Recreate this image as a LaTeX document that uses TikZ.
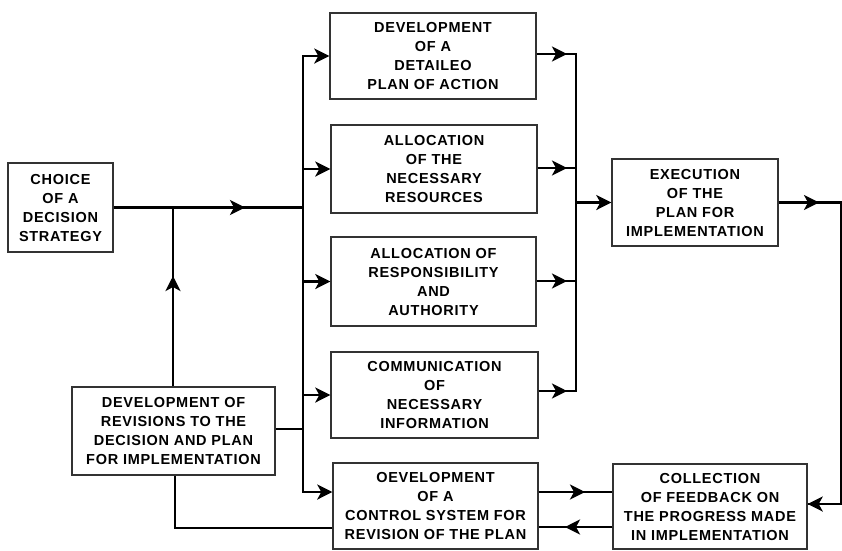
\documentclass[tikz,border=0pt]{standalone}
\usepackage{fontspec}
\setmainfont{Liberation Sans}[LetterSpace=5]
\usetikzlibrary{arrows.meta,calc}
\begin{document}
\begin{tikzpicture}[x=1pt,y=-1pt,
  box/.style={draw=black!80,line width=1.4pt,rectangle,inner sep=0pt,align=center,
    font=\fontsize{14.5}{19}\selectfont\bfseries},
  conn/.style={line width=2.8pt,black,line cap=rect},
  arr/.style={line width=2.8pt,black,-{Stealth[length=15pt,width=15pt,inset=4pt]}}]
\useasboundingbox (0,0) rectangle (842,550);
\fill[white] (0,0) rectangle (842,550);
% boxes
\node[box,minimum width=105pt,minimum height=89pt] (choice) at (60.5,207.5) {CHOICE\\OF A\\DECISION\\STRATEGY};
\node[box,minimum width=206pt,minimum height=86pt] (d1) at (433,56) {DEVELOPMENT\\OF A\\DETAILEO\\PLAN OF ACTION};
\node[box,minimum width=206pt,minimum height=88pt] (d2) at (434,169) {ALLOCATION\\OF THE\\NECESSARY\\RESOURCES};
\node[box,minimum width=205pt,minimum height=89pt] (d3) at (433.5,281.5) {ALLOCATION OF\\RESPONSIBILITY\\AND\\AUTHORITY};
\node[box,minimum width=207pt,minimum height=86pt] (d4) at (434.5,395) {COMMUNICATION\\OF\\NECESSARY\\INFORMATION};
\node[box,minimum width=205pt,minimum height=86pt] (d5) at (435.5,506) {OEVELOPMENT\\OF A\\CONTROL SYSTEM FOR\\REVISION OF THE PLAN};
\node[box,minimum width=203pt,minimum height=88pt] (rev) at (173.5,431) {DEVELOPMENT OF\\REVISIONS TO THE\\DECISION AND PLAN\\FOR IMPLEMENTATION};
\node[box,minimum width=166pt,minimum height=87pt] (exe) at (695,202.5) {EXECUTION\\OF THE\\PLAN FOR\\IMPLEMENTATION};
\node[box,minimum width=194pt,minimum height=85pt] (col) at (710,506.5) {COLLECTION\\OF FEEDBACK ON\\THE PROGRESS MADE\\IN IMPLEMENTATION};
% junction coordinates
\coordinate (lt) at (303,56);
\coordinate (lb) at (303,492);
\coordinate (lc) at (303,207.5);
\coordinate (lr) at (303,429);
\coordinate (rt) at (576,54);
\coordinate (rb) at (576,391);
\coordinate (re) at (576,202.5);
\coordinate (ar1) at (245,207.5);
\coordinate (up) at (173,276);
\coordinate (jc) at (173,207.5);
\coordinate (ex1) at (819,202.5);
\coordinate (ex2) at (841,202.5);
\coordinate (ex3) at (841,504);
\coordinate (fb1) at (585,492);
\coordinate (fb2) at (565,527);
\coordinate (rv1) at (175,528);
% left bus
\draw[conn] (lt) -- (lb);
\draw[conn,line cap=butt] (choice.east) -- (lc);
\draw[arr] (choice.east) -- (ar1);
\draw[conn,line cap=butt] (rev.north -| jc) -- (jc);
\draw[arr] (rev.north -| jc) -- (up);
\draw[conn,line cap=butt] (rev.east |- lr) -- (lr);
\foreach \n in {d1,d2,d3,d4}{\draw[arr] (lt |- \n.west) -- (\n.west);}
\draw[arr] (lb) -- (d5.west |- lb);
% right bus
\draw[conn] (rt) -- (rb);
\foreach \n/\y in {d1/54,d2/168,d3/281,d4/391}{
  \draw[conn,line cap=butt] (\n.east |- 0,\y) -- (576,\y);
  \draw[arr] (\n.east |- 0,\y) -- (567,\y);}
\draw[arr] (re) -- (exe.west);
% execution to collection
\draw[conn,line cap=butt,line join=miter] (exe.east) -- (ex2) -- (ex3) -- (col.east |- ex3);
\draw[arr] (exe.east) -- (ex1);
\draw[arr] (ex3) -- (col.east |- ex3);
% control system and collection
\draw[conn,line cap=butt] (d5.east |- fb1) -- (col.west |- fb1);
\draw[arr] (d5.east |- fb1) -- (fb1);
\draw[conn,line cap=butt] (col.west |- fb2) -- (d5.east |- fb2);
\draw[arr] (col.west |- fb2) -- (fb2);
% control system back to revisions
\draw[conn,line cap=butt,line join=miter] (d5.west |- rv1) -- (rv1) -- (rv1 |- rev.south);
\end{tikzpicture}
\end{document}
